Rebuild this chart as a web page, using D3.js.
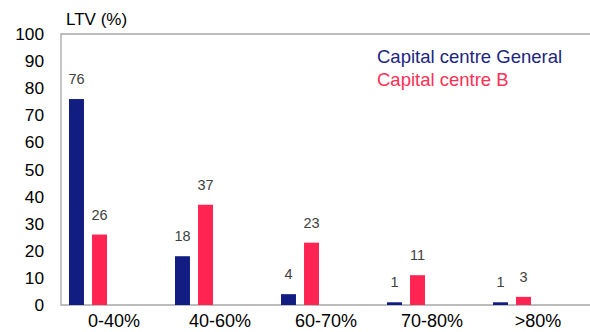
<!DOCTYPE html>
<html><head><meta charset="utf-8">
<script src="https://cdn.jsdelivr.net/npm/d3@7"></script>
<style>body{margin:0;background:#fff}svg{display:block;font-family:Arial,"Liberation Sans",sans-serif}</style>
</head><body><svg id="c" width="590" height="332"></svg>
<script>
const categories = ["0-40%","40-60%","60-70%","70-80%",">80%"];
const seriesNames = ["Capital centre General","Capital centre B"];
const general = [76,18,4,1,1];
const capB = [26,37,23,11,3];
const yTicks = [0,10,20,30,40,50,60,70,80,90,100];
const colors = ["#111d80","#ff2452"];
const legendColors = ["#1b2580","#ff2f55"];

const svg = d3.select("#c");
const L=61, R=591, T=34, B=305;
const x = d3.scaleBand().domain(categories).range([L,R]).padding(0);
const y = d3.scaleLinear().domain([0,100]).range([B,T]);
const sub = d3.scaleBand().domain([0,1]).range([8,46]).paddingInner(0.35);

// frame
svg.append("path").attr("d",`M${R},${T}H${L}V${B}H${R}`).attr("fill","none").attr("stroke","#a6a6a6").attr("stroke-width",1.3);

// y axis labels
const ya = svg.append("g").attr("transform",`translate(${L},0)`).call(d3.axisLeft(y).tickValues(yTicks).tickSize(0).tickPadding(17));
ya.select(".domain").remove();
ya.selectAll("text").attr("font-size",17.3).attr("fill","#000").attr("font-family","Arial, 'Liberation Sans', sans-serif");

// x axis labels
const xa = svg.append("g").attr("transform",`translate(0,${B})`).call(d3.axisBottom(x).tickSize(0).tickPadding(0));
xa.select(".domain").remove();
xa.selectAll("text").attr("font-size",18).attr("fill","#000").attr("dy",null).attr("y",21.5).attr("font-family","Arial, 'Liberation Sans', sans-serif");

const data = [general, capB];
data.forEach((vals,si)=>{
  const g = svg.append("g");
  g.selectAll("rect").data(vals).join("rect")
    .attr("x",(d,i)=>x(categories[i])+sub(si))
    .attr("width",sub.bandwidth())
    .attr("y",d=>y(d))
    .attr("height",d=>B-y(d))
    .attr("fill",colors[si]);
  g.selectAll("text").data(vals).join("text")
    .attr("x",(d,i)=>x(categories[i])+sub(si)+sub.bandwidth()/2)
    .attr("y",d=>y(d)-15)
    .attr("text-anchor","middle")
    .attr("font-size",14.5).attr("fill","#404040")
    .text(d=>d);
});

svg.append("text").attr("x",66).attr("y",25).attr("font-size",17).attr("fill","#000").text("LTV (%)");

seriesNames.forEach((n,i)=>{
  svg.append("text").attr("x",377).attr("y",63+i*23).attr("font-size",18.5).attr("fill",legendColors[i]).text(n);
});
</script></body></html>
